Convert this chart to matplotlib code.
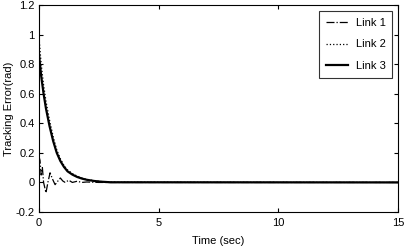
import matplotlib
matplotlib.use("Agg")
import matplotlib.pyplot as plt

plt.rcParams["font.family"] = ["Liberation Sans", "DejaVu Sans"]

# values
t1 = [0.0, 0.05, 0.1, 0.15, 0.2, 0.3, 0.38, 0.47, 0.58, 0.68, 0.8, 0.9, 1.0,
      1.1, 1.25, 1.4, 1.6, 1.8, 2.0, 2.5, 15.0]
link1 = [0.18, 0.15, 0.05, 0.1, 0.0, -0.07, 0.0, 0.065, 0.02, -0.015, 0.01, 0.03,
         0.01, 0.0, 0.015, 0.0, 0.008, 0.0, 0.003, 0.0, 0.0]

t23 = [0.0, 0.1, 0.2, 0.3, 0.45, 0.6, 0.75, 0.9, 1.05, 1.2, 1.4, 1.6, 1.8, 2.0,
       2.3, 2.6, 3.0, 15.0]
link2 = [1.0, 0.8, 0.66, 0.55, 0.42, 0.31, 0.22, 0.16, 0.115, 0.085, 0.06, 0.043,
         0.03, 0.02, 0.012, 0.006, 0.002, 0.0]
link3 = [0.88, 0.72, 0.6, 0.5, 0.38, 0.28, 0.2, 0.145, 0.105, 0.075, 0.053, 0.037,
         0.026, 0.018, 0.01, 0.005, 0.001, 0.0]

xticks = [0, 5, 10, 15]
yticks = [-0.2, 0, 0.2, 0.4, 0.6, 0.8, 1, 1.2]
yticklabels = ["-0.2", "0", "0.2", "0.4", "0.6", "0.8", "1", "1.2"]

fig = plt.figure(figsize=(4.04, 2.5), dpi=100)
ax = fig.add_axes([0.096, 0.152, 0.89, 0.828])

ax.plot(t1, link1, color="black", lw=0.9, ls="-.", label="Link 1")
ax.plot(t23, link2, color="black", lw=0.9, ls=":", label="Link 2")
ax.plot(t23, link3, color="black", lw=1.6, ls="-", label="Link 3")

ax.set_xlim(0, 15)
ax.set_ylim(-0.2, 1.2)
ax.set_xticks(xticks)
ax.set_yticks(yticks)
ax.set_yticklabels(yticklabels)
ax.tick_params(direction="in", top=True, right=True, labelsize=8, length=3,
               width=0.8)
ax.tick_params(axis="x", pad=4)
ax.tick_params(axis="y", pad=3)
for sp in ax.spines.values():
    sp.set_linewidth(0.8)

ax.set_xlabel("Time (sec)", fontsize=8, labelpad=6)
ax.set_ylabel("Tracking Error(rad)", fontsize=8, labelpad=1)

leg = ax.legend(loc="upper right", fontsize=8, frameon=True, fancybox=False,
                edgecolor="black", handlelength=2.0, borderaxespad=0.55,
                labelspacing=1.05, handletextpad=0.7, borderpad=0.6)
leg.get_frame().set_linewidth(0.8)

fig.savefig("out.png", dpi=100)
